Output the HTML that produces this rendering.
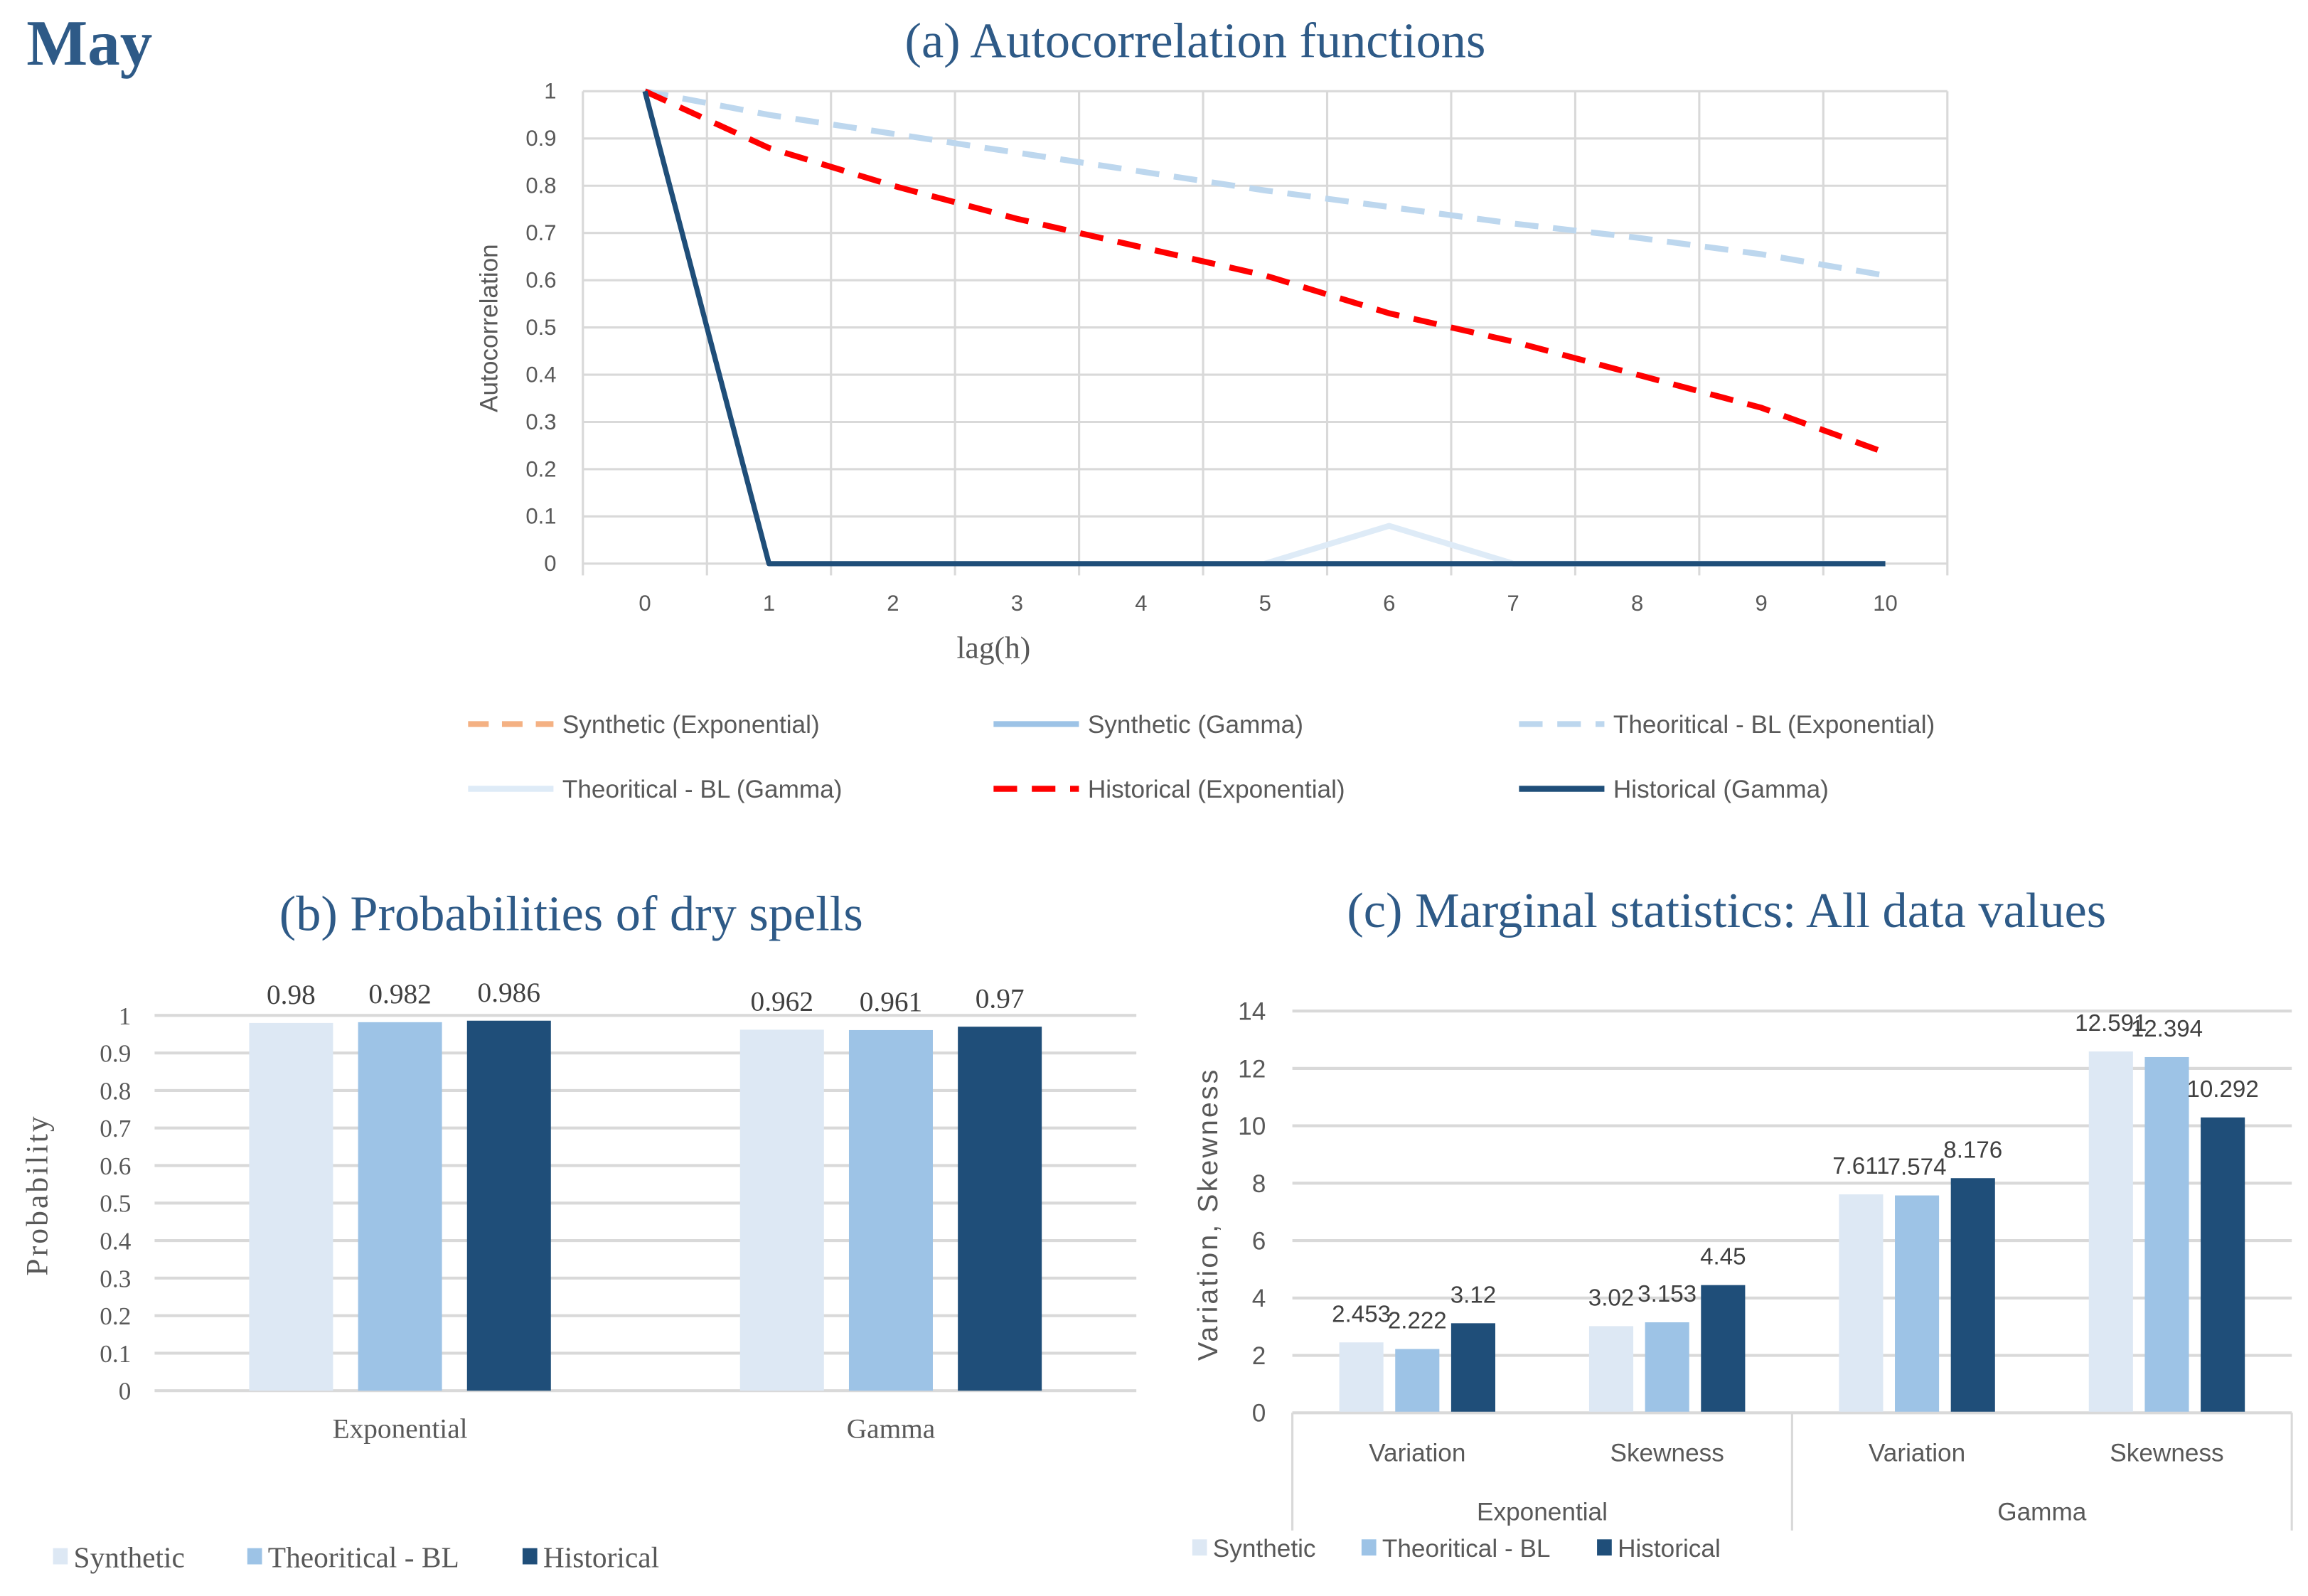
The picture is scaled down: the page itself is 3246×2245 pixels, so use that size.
<!DOCTYPE html>
<html><head><meta charset="utf-8"><style>
html,body{margin:0;padding:0;background:#fff;}
svg{display:block;}
.serif{font-family:"Liberation Serif",serif;}
.sans{font-family:"Liberation Sans",sans-serif;}
</style></head><body>
<svg id="fig" width="3246" height="2245" viewBox="0 0 1568 1084.5" xmlns="http://www.w3.org/2000/svg">
<rect width="1568" height="1085" fill="#fff"/>
<text x="18" y="44" class="serif" font-size="44" font-weight="bold" fill="#2e5a87">May</text>
<text x="812" y="39" text-anchor="middle" class="serif" font-size="34" fill="#2e5a87">(a) Autocorrelation functions</text>
<g id="ga"></g>
<text x="388" y="632" text-anchor="middle" class="serif" font-size="34" fill="#2e5a87">(b) Probabilities of dry spells</text>
<g id="gb"></g>
<text x="1173" y="630" text-anchor="middle" class="serif" font-size="34" fill="#2e5a87">(c) Marginal statistics: All data values</text>
<g id="gc"></g>
</svg>
<script>
// ---- Chart (a) data ----
const lags = [0,1,2,3,4,5,6,7,8,9,10];
const yTicksA = [0,0.1,0.2,0.3,0.4,0.5,0.6,0.7,0.8,0.9,1];
const synthExp = [1,0,0,0,0,0,0,0,0,0,0];
const synthGamma = [1,0,0,0,0,0,0,0,0,0,0];
const theoExp = [1,0.95,0.91,0.87,0.83,0.79,0.755,0.72,0.69,0.655,0.61];
const theoGamma = [null,null,null,null,null,0,0.08,0,0,0,0];
const histExp = [1,0.88,0.80,0.73,0.67,0.61,0.53,0.47,0.40,0.33,0.235];
const histGamma = [1,0,0,0,0,0,0,0,0,0,0];
// ---- Chart (b) data ----
const probGroups = ["Exponential","Gamma"];
const probSynthetic = [0.98,0.962];
const probTheoretical = [0.982,0.961];
const probHistorical = [0.986,0.97];
const yTicksB = [0,0.1,0.2,0.3,0.4,0.5,0.6,0.7,0.8,0.9,1];
// ---- Chart (c) data ----
const statCats = ["Variation","Skewness","Variation","Skewness"];
const statGroups = ["Exponential","Gamma"];
const statSynthetic = [2.453,3.02,7.611,12.591];
const statTheoretical = [2.222,3.153,7.574,12.394];
const statHistorical = [3.12,4.45,8.176,10.292];
const yTicksC = [0,2,4,6,8,10,12,14];

const NS="http://www.w3.org/2000/svg";
function mk(parent,tag,attrs,text){const e=document.createElementNS(NS,tag);for(const k in attrs)e.setAttribute(k,attrs[k]);if(text!==undefined)e.textContent=text;parent.appendChild(e);return e;}
const C1="#dde8f4",C2="#9dc3e6",C3="#1f4e79";

// ===== Chart A =====
(function(){
const g=document.getElementById('ga');
const L=396,R=1323,T=62,B=383;
const bw=(R-L)/lags.length;
const x=i=>L+bw*(i+0.5);
const y=v=>B-(B-T)*v;
yTicksA.forEach(t=>{
 const l=mk(g,'line',{x1:L,x2:R,y1:y(t),y2:y(t),stroke:'#d9d9d9','stroke-width':1.5});
 
 
 const tx=mk(g,'text',{x:378,y:y(t)+5,'text-anchor':'end','font-size':15,fill:'#595959',class:'sans'},String(t));
 
 
});
for(let i=0;i<=lags.length;i++){
 const l=mk(g,'line',{x1:L+bw*i,x2:L+bw*i,y1:T,y2:B+8,stroke:'#d9d9d9','stroke-width':1.5});
 
 
}
lags.forEach((v,i)=>{
 const tx=mk(g,'text',{x:x(i),y:415,'text-anchor':'middle','font-size':15,fill:'#595959',class:'sans'},String(v));
 
 
});
const yt=mk(g,'text',{transform:'translate(338,223) rotate(-90)','text-anchor':'middle','font-size':17,fill:'#595959',class:'sans'},'Autocorrelation');


const xt=mk(g,'text',{x:675,y:447,'text-anchor':'middle','font-size':21,fill:'#595959',class:'serif'},'lag(h)');


function series(arr,color,w,dash,name){
 let d='';let started=false;
 arr.forEach((v,i)=>{if(v===null){started=false;return;}d+=(started?'L':'M')+x(i)+','+y(v)+' ';started=true;});
 const p=mk(g,'path',{d:d,fill:'none',stroke:color,'stroke-width':w,'stroke-dasharray':dash||'none','stroke-linejoin':'round'});
 
 
}
series(synthExp,'#f4b183',3,'14 9','line-synthetic-exponential');
series(synthGamma,'#9dc3e6',3,null,'line-synthetic-gamma');
series(theoExp,'#bdd7ee',4,'16 10','line-theoretical-exponential');
series(theoGamma,'#deebf7',4,null,'line-theoretical-gamma');
series(histExp,'#ff0000',4,'16 10','line-historical-exponential');
series(histGamma,'#1f4e79',3.5,null,'line-historical-gamma');
const leg=[
 [318,492,'#f4b183','14 9','Synthetic (Exponential)'],
 [675,492,'#9dc3e6',null,'Synthetic (Gamma)'],
 [1032,492,'#bdd7ee','16 10','Theoritical - BL (Exponential)'],
 [318,536,'#deebf7',null,'Theoritical - BL (Gamma)'],
 [675,536,'#ff0000','16 10','Historical (Exponential)'],
 [1032,536,'#1f4e79',null,'Historical (Gamma)']];
leg.forEach(e=>{
 const gg=mk(g,'g',{});
 
 
 mk(gg,'line',{x1:e[0],x2:e[0]+58,y1:e[1],y2:e[1],stroke:e[2],'stroke-width':4,'stroke-dasharray':e[3]||'none'});
 mk(gg,'text',{x:e[0]+64,y:e[1]+6,'font-size':17,fill:'#595959',class:'sans'},e[4]);
});
})();

// ===== Chart B =====
(function(){
const g=document.getElementById('gb');
const L=105,R=772,T=690,B=945;
const y=v=>B-(B-T)*v;
yTicksB.forEach(t=>{
 const l=mk(g,'line',{x1:L,x2:R,y1:y(t),y2:y(t),stroke:'#d9d9d9','stroke-width':2});
 
 
 const tx=mk(g,'text',{x:89,y:y(t)+6,'text-anchor':'end','font-size':17,fill:'#595959',class:'serif'},String(t));
 
 
});
const gw=(R-L)/probGroups.length;
const bwid=57,step=74;
const series=[[probSynthetic,C1,'synthetic'],[probTheoretical,C2,'theoretical'],[probHistorical,C3,'historical']];
probGroups.forEach((name,gi)=>{
 const cx=L+gw*(gi+0.5);
 series.forEach((s,si)=>{
  const bx=cx+(si-1)*step-bwid/2;
  const r=mk(g,'rect',{x:bx,y:y(s[0][gi]),width:bwid,height:B-y(s[0][gi]),fill:s[1]});
  
  
  const tx=mk(g,'text',{x:bx+bwid/2,y:y(s[0][gi])-13,'text-anchor':'middle','font-size':19,fill:'#404040',class:'serif'},String(s[0][gi]));
  
  
 });
 const tx=mk(g,'text',{x:cx,y:977,'text-anchor':'middle','font-size':19,fill:'#595959',class:'serif'},name);
 
 
});
const yt=mk(g,'text',{transform:'translate(32,812) rotate(-90)','text-anchor':'middle','font-size':21,fill:'#595959',class:'serif','letter-spacing':'1.5'},'Probability');


[[36,C1,'Synthetic'],[168,C2,'Theoritical - BL'],[355,C3,'Historical']].forEach(e=>{
 const gg=mk(g,'g',{});
 
 
 mk(gg,'rect',{x:e[0],y:1052,width:10,height:11,fill:e[1]});
 mk(gg,'text',{x:e[0]+14,y:1065,'font-size':20,fill:'#595959',class:'serif'},e[2]);
});
})();

// ===== Chart C =====
(function(){
const g=document.getElementById('gc');
const L=878,R=1557,T=687,B=960;
const y=v=>B-(B-T)*v/14;
yTicksC.forEach(t=>{
 const l=mk(g,'line',{x1:L,x2:R,y1:y(t),y2:y(t),stroke:'#d9d9d9','stroke-width':2});
 
 
 const tx=mk(g,'text',{x:860,y:y(t)+6,'text-anchor':'end','font-size':17,fill:'#595959',class:'sans'},String(t));
 
 
});
const cw=(R-L)/statCats.length;
const bwid=30,step=38;
const series=[[statSynthetic,C1,'synthetic'],[statTheoretical,C2,'theoretical'],[statHistorical,C3,'historical']];
statCats.forEach((name,ci)=>{
 const cx=L+cw*(ci+0.5);
 series.forEach((s,si)=>{
  const bx=cx+(si-1)*step-bwid/2;
  const r=mk(g,'rect',{x:bx,y:y(s[0][ci]),width:bwid,height:B-y(s[0][ci]),fill:s[1]});
  
  
  const tx=mk(g,'text',{x:bx+bwid/2,y:y(s[0][ci])-14,'text-anchor':'middle','font-size':16,fill:'#404040',class:'sans'},String(s[0][ci]));
  
  
 });
 const tx=mk(g,'text',{x:cx,y:993,'text-anchor':'middle','font-size':17,fill:'#595959',class:'sans'},name);
 
 
});
const ax=mk(g,'line',{x1:L,x2:R,y1:B,y2:B,stroke:'#d9d9d9','stroke-width':1.5});


const gw=(R-L)/statGroups.length;
for(let i=0;i<=statGroups.length;i++){
 const l=mk(g,'line',{x1:L+gw*i,x2:L+gw*i,y1:B,y2:1040,stroke:'#d9d9d9','stroke-width':1.5});
 
 
}
statGroups.forEach((name,gi)=>{
 const tx=mk(g,'text',{x:L+gw*(gi+0.5),y:1033,'text-anchor':'middle','font-size':17,fill:'#595959',class:'sans'},name);
 
 
});
const yt=mk(g,'text',{transform:'translate(827,825) rotate(-90)','text-anchor':'middle','font-size':19,fill:'#595959',class:'sans','letter-spacing':'1.5'},'Variation, Skewness');


[[810,C1,'Synthetic'],[925,C2,'Theoritical - BL'],[1085,C3,'Historical']].forEach(e=>{
 const gg=mk(g,'g',{});
 
 
 mk(gg,'rect',{x:e[0],y:1046,width:10,height:11,fill:e[1]});
 mk(gg,'text',{x:e[0]+14,y:1058,'font-size':17,fill:'#595959',class:'sans'},e[2]);
});
})();
</script>
</body></html>
